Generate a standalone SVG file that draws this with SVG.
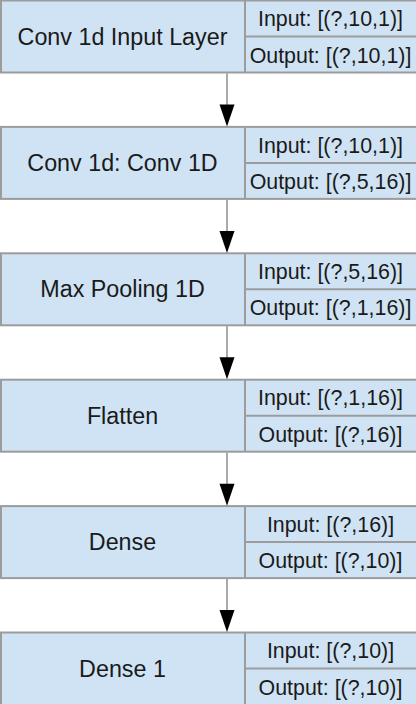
<svg xmlns="http://www.w3.org/2000/svg" width="416" height="704" viewBox="0 0 416 704">
<style>
.box{fill:#cfe3f4;stroke:#9c9c9c;stroke-width:2}
.sep{stroke:#9c9c9c;stroke-width:2;fill:none}
.lbl{font-family:"Liberation Sans",Arial,sans-serif;font-size:23.3px;fill:#1a1a1a;text-anchor:middle}
.port{font-family:"Liberation Sans",Arial,sans-serif;font-size:21.4px;fill:#1a1a1a;text-anchor:middle}
.edge{stroke:#8c8c8c;stroke-width:1.5;fill:none}
.head{fill:#000}
</style>
<rect width="416" height="704" fill="#fff"/>
<g id="n1" transform="translate(0,0.5)">
<rect class="box" x="1" y="0" width="420" height="72"/>
<line class="sep" x1="245" y1="0" x2="245" y2="72"/><line class="sep" x1="245" y1="36" x2="420" y2="36"/>
<text class="lbl" x="122.5" y="44">Conv 1d Input Layer</text>
<text class="port" x="330.5" y="25.8">Input: [(?,10,1)]</text>
<text class="port" x="330.5" y="62">Output: [(?,10,1)]</text>
</g>
<g id="n2" transform="translate(0,126.9)">
<rect class="box" x="1" y="0" width="420" height="72"/>
<line class="sep" x1="245" y1="0" x2="245" y2="72"/><line class="sep" x1="245" y1="36" x2="420" y2="36"/>
<text class="lbl" x="122.5" y="44">Conv 1d: Conv 1D</text>
<text class="port" x="330.5" y="25.8">Input: [(?,10,1)]</text>
<text class="port" x="330.5" y="62">Output: [(?,5,16)]</text>
</g>
<g id="n3" transform="translate(0,253.3)">
<rect class="box" x="1" y="0" width="420" height="72"/>
<line class="sep" x1="245" y1="0" x2="245" y2="72"/><line class="sep" x1="245" y1="36" x2="420" y2="36"/>
<text class="lbl" x="122.5" y="44">Max Pooling 1D</text>
<text class="port" x="330.5" y="25.8">Input: [(?,5,16)]</text>
<text class="port" x="330.5" y="62">Output: [(?,1,16)]</text>
</g>
<g id="n4" transform="translate(0,379.7)">
<rect class="box" x="1" y="0" width="420" height="72"/>
<line class="sep" x1="245" y1="0" x2="245" y2="72"/><line class="sep" x1="245" y1="36" x2="420" y2="36"/>
<text class="lbl" x="122.5" y="44">Flatten</text>
<text class="port" x="330.5" y="25.8">Input: [(?,1,16)]</text>
<text class="port" x="330.5" y="62">Output: [(?,16)]</text>
</g>
<g id="n5" transform="translate(0,506.1)">
<rect class="box" x="1" y="0" width="420" height="72"/>
<line class="sep" x1="245" y1="0" x2="245" y2="72"/><line class="sep" x1="245" y1="36" x2="420" y2="36"/>
<text class="lbl" x="122.5" y="44">Dense</text>
<text class="port" x="330.5" y="25.8">Input: [(?,16)]</text>
<text class="port" x="330.5" y="62">Output: [(?,10)]</text>
</g>
<g id="n6" transform="translate(0,632.5)">
<rect class="box" x="1" y="0" width="420" height="80"/>
<line class="sep" x1="245" y1="0" x2="245" y2="80"/><line class="sep" x1="245" y1="36" x2="420" y2="36"/>
<text class="lbl" x="122.5" y="44">Dense 1</text>
<text class="port" x="330.5" y="25.8">Input: [(?,10)]</text>
<text class="port" x="330.5" y="62">Output: [(?,10)]</text>
</g>
<g id="edges">
<line class="edge" x1="227" y1="73.5" x2="227" y2="105"/><polygon class="head" points="219.5,104.5 234.5,104.5 227,126.5"/>
<line class="edge" x1="227" y1="199.9" x2="227" y2="232"/><polygon class="head" points="219.5,230.9 234.5,230.9 227,252.9"/>
<line class="edge" x1="227" y1="326.3" x2="227" y2="358"/><polygon class="head" points="219.5,357.3 234.5,357.3 227,379.3"/>
<line class="edge" x1="227" y1="452.7" x2="227" y2="484"/><polygon class="head" points="219.5,483.7 234.5,483.7 227,505.7"/>
<line class="edge" x1="227" y1="579.1" x2="227" y2="611"/><polygon class="head" points="219.5,610.1 234.5,610.1 227,632.1"/>
</g>
</svg>
